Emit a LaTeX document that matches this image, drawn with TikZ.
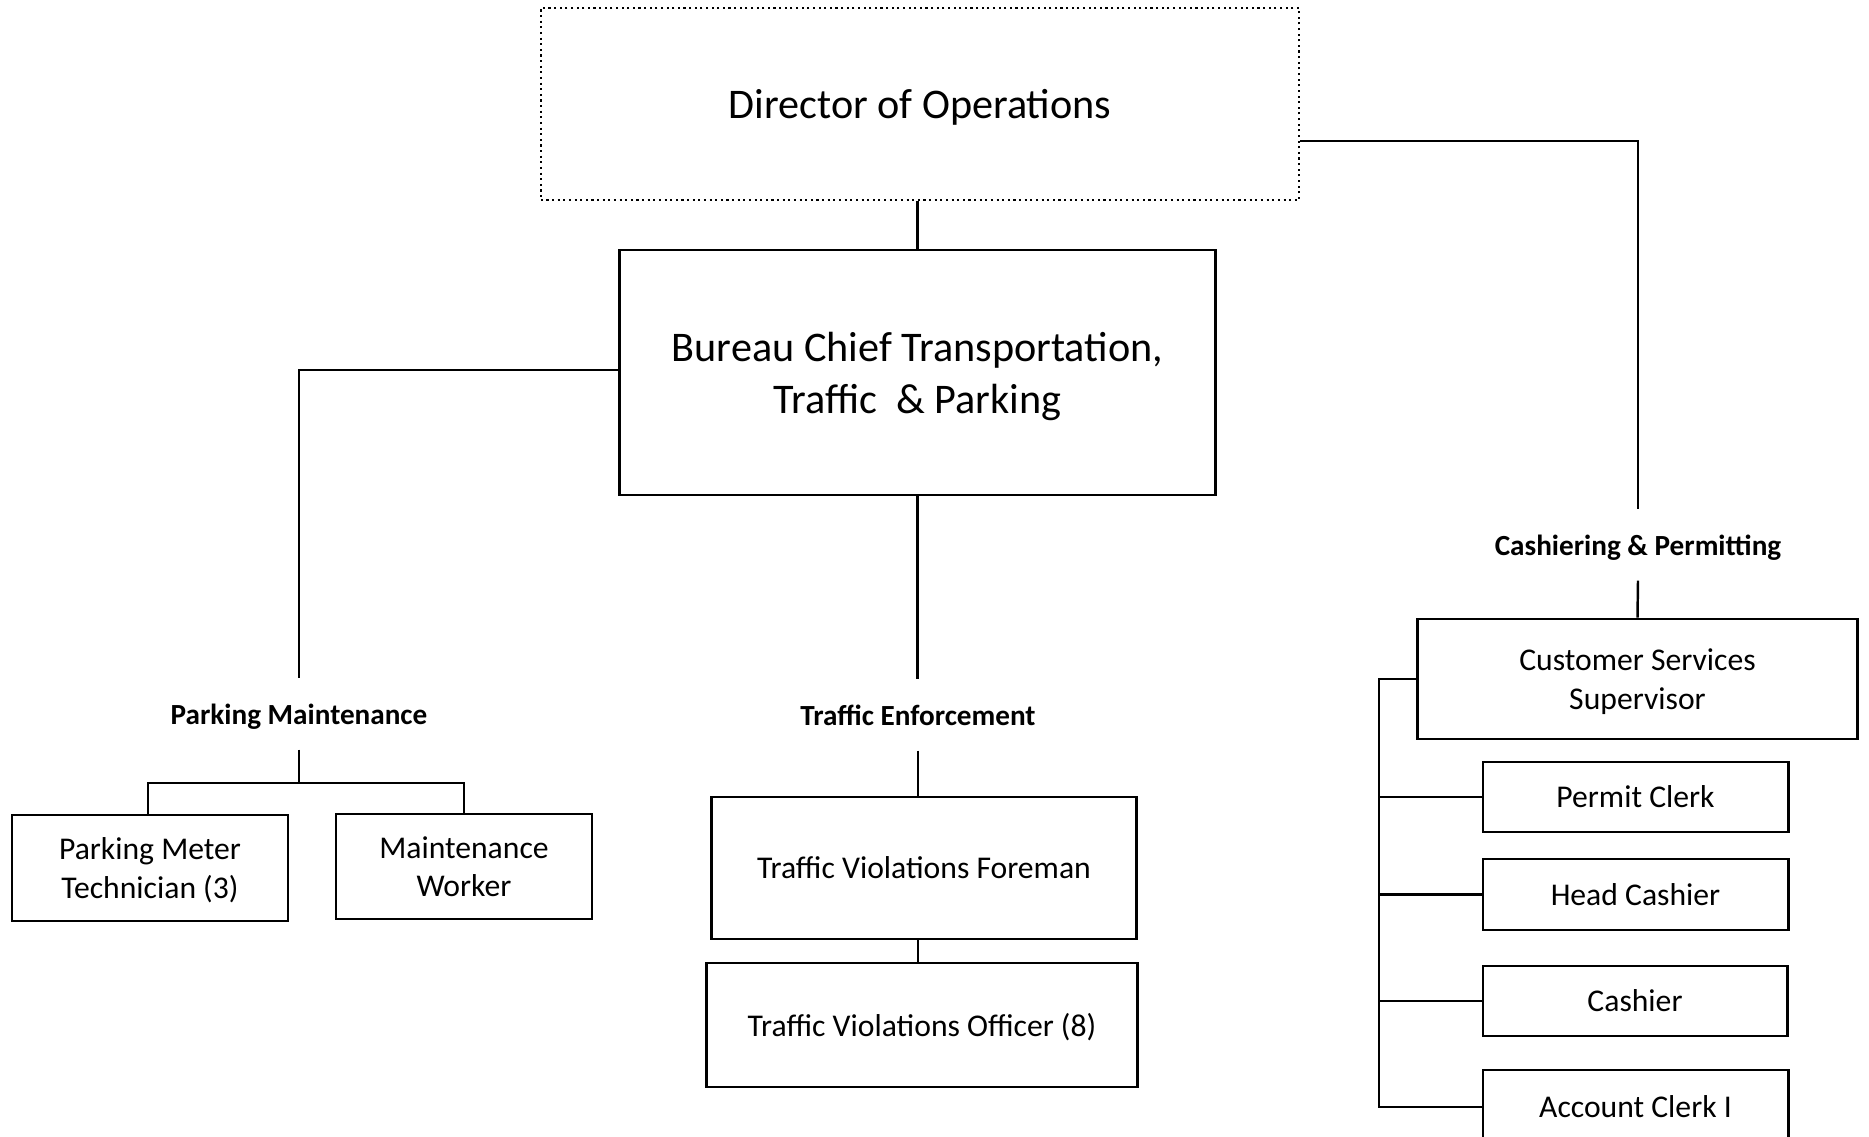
\documentclass[tikz,border=0pt]{standalone}
\usepackage{fontspec}
\setmainfont{Carlito}
\begin{document}
\begin{tikzpicture}[x=0.01cm, y=-0.01cm,
  every node/.style={text depth=0pt},
  box/.style={draw, line width=0.8pt, inner sep=0pt, align=center, font=\fontsize{9}{11}\selectfont},
  unit/.style={inner sep=0pt, minimum height=0.7cm, font=\fontsize{8.3}{10}\selectfont\bfseries},
  link/.style={line width=0.7pt}]
\useasboundingbox (0,0) rectangle (1869,1137);
\clip (0,0) rectangle (1869,1137);
% top of the bureau
\node[draw, densely dotted, line width=0.6pt, minimum width=7.58cm, minimum height=1.92cm, font=\fontsize{12}{14.8}\selectfont] (dir) at (920,104) {Director of Operations};
\node[box, minimum width=5.95cm, minimum height=2.45cm, font=\fontsize{12}{14.8}\selectfont] (chief) at (917.5,372.5) {Bureau Chief Transportation,\\Traffic \ \& Parking};
% section headings
\node[unit] (pm) at (299,714) {Parking Maintenance};
\node[unit] (te) at (918,715) {Traffic Enforcement};
\node[unit] (cp) at (1638,545) {Cashiering \& Permitting};
% parking maintenance
\node[box, minimum width=2.76cm, minimum height=1.06cm] (pmt) at (150,868) {Parking Meter\\Technician (3)};
\node[box, minimum width=2.56cm, minimum height=1.05cm] (mw) at (464,866.5) {Maintenance\\Worker};
% traffic enforcement
\node[box, minimum width=4.24cm, minimum height=1.42cm] (tvf) at (924,868) {Traffic Violations Foreman};
\node[box, minimum width=4.30cm, minimum height=1.24cm] (tvo) at (922,1025) {Traffic Violations Officer (8)};
% cashiering and permitting
\node[box, minimum width=4.39cm, minimum height=1.20cm] (css) at (1637.5,679) {Customer Services\\Supervisor};
\node[box, minimum width=3.05cm, minimum height=0.70cm] (pc) at (1635.5,797) {Permit Clerk};
\node[box, minimum width=3.05cm, minimum height=0.71cm] (hc) at (1635.5,894.5) {Head Cashier};
\node[box, minimum width=3.04cm, minimum height=0.70cm] (ca) at (1635,1001) {Cashier};
\node[box, minimum width=3.05cm, minimum height=0.74cm] (ac) at (1635.5,1107) {Account Clerk I};
% connectors
\draw[link] (dir.south -| chief.north) -- (chief.north);
\draw[link] ([yshift=-0.37cm]dir.east) -| (cp.north);
\draw[link] ([yshift=0.025cm]chief.west) -| (pm.north);
\draw[link] (chief.south) -- (chief.south |- te.north);
\coordinate (pmbus) at (299,783);
\draw[link] (pm.south) -- (pmbus);
\draw[link] (pmt.north -| 148,0) |- (pmbus) -| (mw.north);
\draw[link] (te.south) -- (te.south |- tvf.north);
\draw[link] (tvf.south -| te.south) -- (tvo.north -| te.south);
\draw[link] (cp.south) -- (css.north);
\coordinate (rail) at (1379,0);
\draw[link] (css.west) -| (rail |- ac.west) -- (ac.west);
\foreach \n in {pc,hc,ca}
  \draw[link] (rail |- \n.west) -- (\n.west);
\end{tikzpicture}
\end{document}
